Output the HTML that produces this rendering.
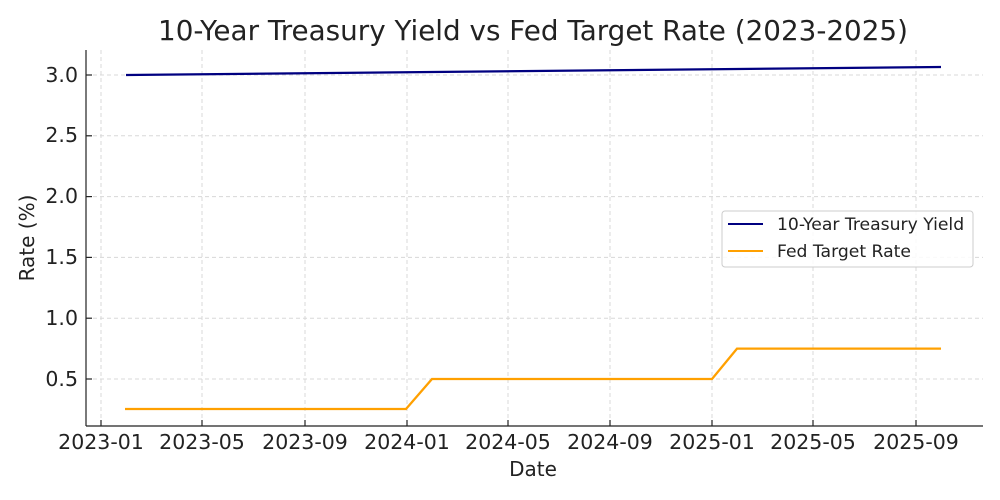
<!DOCTYPE html>
<html><head><style>body{margin:0;background:#fff}svg{display:block}text{font-family:"DejaVu Sans","Liberation Sans",sans-serif;fill:#222}</style></head>
<body>
<svg width="1000" height="500" xmlns="http://www.w3.org/2000/svg">
<text x="533" y="40" font-size="27.8" text-anchor="middle">10-Year Treasury Yield vs Fed Target Rate (2023-2025)</text>
<g stroke="#d8d8d8" stroke-width="1" stroke-dasharray="4,3">
<line x1="101" y1="50" x2="101" y2="426"/><line x1="202" y1="50" x2="202" y2="426"/><line x1="305" y1="50" x2="305" y2="426"/><line x1="407" y1="50" x2="407" y2="426"/><line x1="508" y1="50" x2="508" y2="426"/><line x1="610" y1="50" x2="610" y2="426"/><line x1="712" y1="50" x2="712" y2="426"/><line x1="813" y1="50" x2="813" y2="426"/><line x1="916" y1="50" x2="916" y2="426"/>
<line x1="86" y1="379" x2="983" y2="379"/><line x1="86" y1="318.2" x2="983" y2="318.2"/><line x1="86" y1="257.4" x2="983" y2="257.4"/><line x1="86" y1="196.6" x2="983" y2="196.6"/><line x1="86" y1="135.8" x2="983" y2="135.8"/><line x1="86" y1="75" x2="983" y2="75"/>
</g>
<g stroke="#222" stroke-width="1.2">
<line x1="86" y1="50" x2="86" y2="426"/><line x1="86" y1="426" x2="983" y2="426"/>
<line x1="101" y1="426" x2="101" y2="420"/><line x1="202" y1="426" x2="202" y2="420"/><line x1="305" y1="426" x2="305" y2="420"/><line x1="407" y1="426" x2="407" y2="420"/><line x1="508" y1="426" x2="508" y2="420"/><line x1="610" y1="426" x2="610" y2="420"/><line x1="712" y1="426" x2="712" y2="420"/><line x1="813" y1="426" x2="813" y2="420"/><line x1="916" y1="426" x2="916" y2="420"/>
<line x1="86" y1="379" x2="92" y2="379"/><line x1="86" y1="318.2" x2="92" y2="318.2"/><line x1="86" y1="257.4" x2="92" y2="257.4"/><line x1="86" y1="196.6" x2="92" y2="196.6"/><line x1="86" y1="135.8" x2="92" y2="135.8"/><line x1="86" y1="75" x2="92" y2="75"/>
</g>
<g font-size="20.5" text-anchor="middle">
<text x="101" y="449">2023-01</text><text x="202" y="449">2023-05</text><text x="305" y="449">2023-09</text><text x="407" y="449">2024-01</text><text x="508" y="449">2024-05</text><text x="610" y="449">2024-09</text><text x="712" y="449">2025-01</text><text x="813" y="449">2025-05</text><text x="916" y="449">2025-09</text>
</g>
<g font-size="20.5" text-anchor="end">
<text x="78" y="386">0.5</text><text x="78" y="325">1.0</text><text x="78" y="264">1.5</text><text x="78" y="203">2.0</text><text x="78" y="142">2.5</text><text x="78" y="82">3.0</text>
</g>
<text x="533" y="476" font-size="20" text-anchor="middle">Date</text>
<text x="0" y="0" font-size="20" text-anchor="middle" transform="translate(34,238) rotate(-90)">Rate (%)</text>
<polyline fill="none" stroke="#000080" stroke-width="2.3" points="126,75 941,67"/>
<polyline fill="none" stroke="#ffa000" stroke-width="2.3" points="125,409 406,409 432,379 712,379 737,348.6 941,348.6"/>
<rect x="722" y="211" width="251" height="56" rx="3" fill="#fff" fill-opacity="0.85" stroke="#ccc"/>
<line x1="728" y1="224" x2="763" y2="224" stroke="#000080" stroke-width="2"/>
<line x1="728" y1="251" x2="763" y2="251" stroke="#ffa000" stroke-width="2"/>
<text x="777" y="230" font-size="17.2">10-Year Treasury Yield</text>
<text x="777" y="257" font-size="17.2">Fed Target Rate</text>
</svg>
</body></html>
